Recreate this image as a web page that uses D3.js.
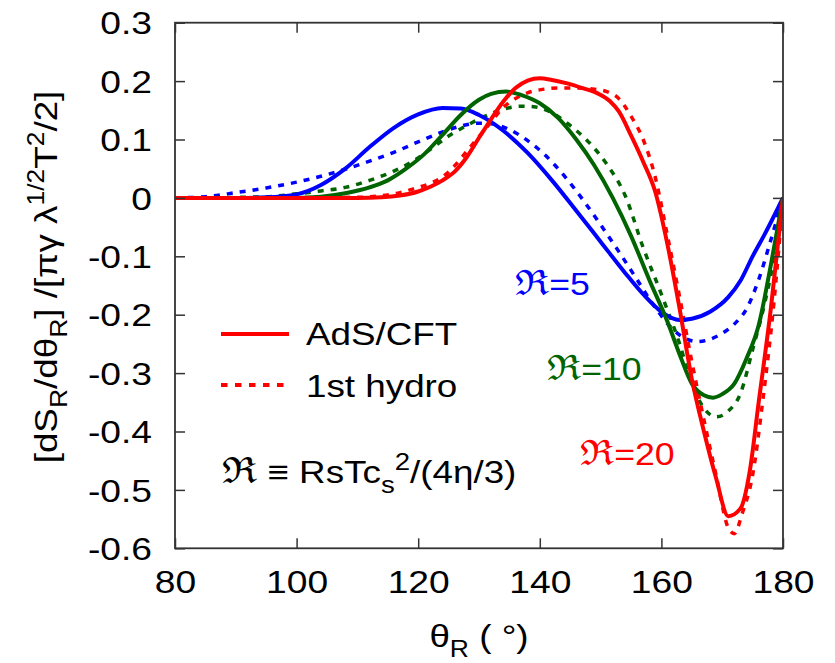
<!DOCTYPE html>
<html>
<head>
<meta charset="utf-8">
<script src="https://cdn.jsdelivr.net/npm/d3@7"></script>
<style>
  body { margin: 0; background: #fff; }
  text { font-family: "Liberation Sans", Arial, sans-serif; }
</style>
</head>
<body>
<script>
// tick labels
var xTicks = [80, 100, 120, 140, 160, 180];
var yTicks = [0.3, 0.2, 0.1, 0, -0.1, -0.2, -0.3, -0.4, -0.5, -0.6];

// R=5
var thetaAds5 = [80, 90, 95, 100, 104, 108, 112, 116, 120, 124, 127, 130, 134, 138, 142, 146, 150, 154, 157, 160, 163, 165, 168, 171, 173, 175, 177, 180];
var ads5 = [0, 0, 0.001, 0.006, 0.022, 0.050, 0.087, 0.120, 0.143, 0.154, 0.153, 0.142, 0.115, 0.077, 0.030, -0.022, -0.075, -0.128, -0.165, -0.195, -0.209, -0.207, -0.195, -0.170, -0.142, -0.100, -0.062, 0];
var thetaHyd5 = [80, 85, 90, 95, 100, 104, 108, 112, 116, 120, 124, 127, 130, 132, 135, 138, 141, 144, 147, 150, 153, 156, 159, 162, 164, 166, 168, 170, 172, 174, 176, 178, 180];
var hyd5 = [0, 0.002, 0.009, 0.017, 0.027, 0.037, 0.049, 0.063, 0.078, 0.096, 0.113, 0.123, 0.128, 0.127, 0.117, 0.098, 0.072, 0.038, -0.002, -0.046, -0.092, -0.140, -0.188, -0.226, -0.241, -0.246, -0.242, -0.232, -0.216, -0.190, -0.140, -0.072, 0];

// R=10
var thetaAds10 = [80, 100, 104, 108, 112, 115, 118, 121, 124, 127, 130, 132, 134.5, 137, 140, 143, 146, 149, 152, 155, 158, 161, 163, 165, 167, 168.5, 170, 172, 174, 176, 178, 180];
var ads10 = [0, 0, 0.002, 0.008, 0.018, 0.030, 0.050, 0.075, 0.108, 0.142, 0.168, 0.178, 0.182, 0.176, 0.162, 0.137, 0.100, 0.055, 0.000, -0.065, -0.140, -0.212, -0.268, -0.318, -0.338, -0.342, -0.336, -0.318, -0.275, -0.218, -0.115, 0];
var thetaHyd10 = [80, 95, 100, 104, 108, 112, 116, 119, 122, 125, 128, 131, 134, 137, 139, 142, 145, 148, 151, 154, 157, 160, 163, 165, 167, 169, 171, 173, 175, 177, 179, 180];
var hyd10 = [0, 0.002, 0.007, 0.012, 0.018, 0.030, 0.046, 0.062, 0.083, 0.106, 0.124, 0.140, 0.152, 0.157, 0.156, 0.146, 0.124, 0.096, 0.058, 0.005, -0.085, -0.165, -0.250, -0.318, -0.360, -0.375, -0.365, -0.335, -0.260, -0.180, -0.075, 0];

// R=20
var thetaAds20 = [80, 110, 114, 117, 120, 122, 124, 126, 128, 130, 132, 134, 136, 138, 140, 142, 144.5, 147, 149.5, 151.5, 153, 155, 157, 159, 161, 163, 165, 167, 169, 171, 173, 174.5, 176, 178, 180];
var ads20 = [0, 0, 0.001, 0.004, 0.011, 0.019, 0.030, 0.045, 0.070, 0.103, 0.135, 0.165, 0.188, 0.201, 0.205, 0.202, 0.196, 0.188, 0.179, 0.166, 0.148, 0.107, 0.062, 0.010, -0.080, -0.190, -0.310, -0.400, -0.480, -0.545, -0.532, -0.470, -0.350, -0.190, 0];
var thetaHyd20 = [80, 110, 114, 117, 120, 122, 124, 126, 128, 130, 132, 134, 136, 138, 140, 143, 146, 149, 151, 153, 155, 157, 159, 161, 163, 165, 167, 169, 171, 172, 173.3, 175, 176.7, 178.5, 180];
var hyd20 = [0, 0.001, 0.004, 0.009, 0.018, 0.025, 0.036, 0.055, 0.080, 0.105, 0.130, 0.155, 0.170, 0.180, 0.185, 0.188, 0.188, 0.186, 0.182, 0.170, 0.140, 0.100, 0.035, -0.065, -0.170, -0.280, -0.380, -0.475, -0.565, -0.575, -0.540, -0.475, -0.345, -0.180, 0];

var blue = "#0000ff", green = "#006400", red = "#ff0000";

var curves = [
  {t: thetaHyd5, v: hyd5, color: blue, dotted: true},
  {t: thetaHyd10, v: hyd10, color: green, dotted: true},
  {t: thetaHyd20, v: hyd20, color: red, dotted: true},
  {t: thetaAds5, v: ads5, color: blue, dotted: false},
  {t: thetaAds10, v: ads10, color: green, dotted: false},
  {t: thetaAds20, v: ads20, color: red, dotted: false}
];

var W = 835, H = 663;
var pLeft = 175, pTop = 22.7, pRight = 783, pBottom = 548.3;
var sx = 1.15; // glyphs in the picture are a bit wider than Arial

var svg = d3.select("body").append("svg").attr("width", W).attr("height", H);

var x = d3.scaleLinear().domain([80, 180]).range([pLeft, pRight]);
var y = d3.scaleLinear().domain([-0.6, 0.3]).range([pBottom, pTop]);

var line = d3.line()
  .x(function (d) { return x(d[0]); })
  .y(function (d) { return y(d[1]); })
  .curve(d3.curveMonotoneX);

var plot = svg.append("g");
plot.append("clipPath").attr("id", "clip")
  .append("rect").attr("x", pLeft).attr("y", pTop).attr("width", pRight - pLeft).attr("height", pBottom - pTop);

plot.selectAll("path.curve")
  .data(curves)
  .enter().append("path")
  .attr("class", "curve")
  .attr("clip-path", "url(#clip)")
  .attr("fill", "none")
  .attr("stroke", function (d) { return d.color; })
  .attr("stroke-width", function (d) { return d.dotted ? 3.5 : 4; })
  .attr("stroke-dasharray", function (d) { return d.dotted ? "6,7" : null; })
  .attr("d", function (d) { return line(d.t.map(function (t, i) { return [t, d.v[i]]; })); });

// axes: inward ticks on all four sides, gnuplot style
var tickLen = 10;
var frameColor = "#333";
var axB = svg.append("g").attr("transform", "translate(0," + pBottom + ")")
  .call(d3.axisBottom(x).tickValues(xTicks).tickSize(-tickLen).tickFormat(d3.format("d")));
var axT = svg.append("g").attr("transform", "translate(0," + pTop + ")")
  .call(d3.axisTop(x).tickValues(xTicks).tickSize(-tickLen).tickFormat(""));
var axL = svg.append("g").attr("transform", "translate(" + pLeft + ",0)")
  .call(d3.axisLeft(y).tickValues(yTicks).tickSize(-tickLen)
    .tickFormat(function (d) { return d === 0 ? "0" : d.toFixed(1); }));  // plain hyphen, like the picture
var axR = svg.append("g").attr("transform", "translate(" + pRight + ",0)")
  .call(d3.axisRight(y).tickValues(yTicks).tickSize(-tickLen).tickFormat(""));

[axB, axT, axL, axR].forEach(function (a) {
  a.select(".domain").remove();
  a.selectAll("line").attr("stroke", frameColor).attr("stroke-width", 1.5);
});

svg.append("rect")
  .attr("x", pLeft).attr("y", pTop).attr("width", pRight - pLeft).attr("height", pBottom - pTop)
  .attr("fill", "none").attr("stroke", frameColor).attr("stroke-width", 1.8);

var tsx = 1.2;
axB.selectAll("text")
  .attr("font-size", 31).attr("fill", "#000")
  .attr("y", 45).attr("dy", null).attr("x", 0)
  .attr("transform", "scale(" + tsx + ",1)");

axL.selectAll("text")
  .attr("font-size", 31).attr("fill", "#000")
  .attr("x", -23 / tsx).attr("dy", "0.36em")
  .attr("transform", "scale(" + tsx + ",1)");

// rich text helper: parts are [string, "sub"|"sup"|null]
function rich(g, parts, size, small) {
  var t = g.append("text").attr("font-size", size);
  var shift = 0;
  parts.forEach(function (p) {
    var s = t.append("tspan").text(p[0]);
    var target = p[1] === "sub" ? size * 0.32 : (p[1] === "sup" ? -size * 0.42 : 0);
    s.attr("dy", target - shift);
    shift = target;
    if (p[1]) s.attr("font-size", small);
  });
  return t;
}

// x axis title
var xt = svg.append("g").attr("transform", "translate(479,647) scale(" + sx + ",1)");
rich(xt, [["θ", null], ["R", "sub"], [" ( °)", null]], 32, 23).attr("text-anchor", "middle");

// y axis title
var yt = svg.append("g").attr("transform", "translate(57,277) rotate(-90) scale(" + sx + ",1)");
rich(yt, [["[dS", null], ["R", "sub"], ["/dθ", null], ["R", "sub"], ["] /[πγ λ", null], ["1/2", "sup"], ["T", null], ["2", "sup"], ["/2]", null]], 32, 23)
  .attr("text-anchor", "middle");

// legend
var legend = svg.append("g");
legend.append("line").attr("x1", 221).attr("x2", 289).attr("y1", 334).attr("y2", 334)
  .attr("stroke", red).attr("stroke-width", 4);
legend.append("line").attr("x1", 221).attr("x2", 289).attr("y1", 385).attr("y2", 385)
  .attr("stroke", red).attr("stroke-width", 4).attr("stroke-dasharray", "6.5,7.5");
legend.append("g").attr("transform", "translate(306,345) scale(" + sx + ",1)")
  .append("text").attr("font-size", 32).text("AdS/CFT");
legend.append("g").attr("transform", "translate(306,397) scale(" + sx + ",1)")
  .append("text").attr("font-size", 32).text("1st hydro");

var formula = svg.append("g").attr("transform", "translate(222,483) scale(" + sx + ",1)");
rich(formula, [["ℜ", null], [" ≡ RsTc", null], ["s", "sub"], ["2", "sup"], ["/(4η/3)", null]], 32, 24)
  .select("tspan").attr("font-size", 36);

// curve labels
var labels = [
  {text: "=5", x: 515, y: 295, color: blue},
  {text: "=10", x: 547, y: 380, color: green},
  {text: "=20", x: 580, y: 465, color: red}
];
labels.forEach(function (l) {
  var t = svg.append("g").attr("transform", "translate(" + l.x + "," + l.y + ") scale(" + sx + ",1)")
    .append("text").attr("font-size", 31).attr("fill", l.color);
  t.append("tspan").attr("font-size", 35).text("ℜ");
  t.append("tspan").text(l.text);
});
</script>
</body>
</html>
